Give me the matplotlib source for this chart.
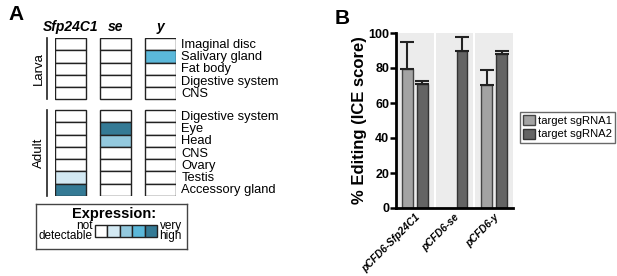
import matplotlib.pyplot as plt
import matplotlib.patches as mpatches
import numpy as np

plt.rcParams["font.family"] = ["Liberation Sans", "DejaVu Sans"]

# panel A data
genes = ["Sfp24C1", "se", "y"]
larva_tissues = ["Imaginal disc", "Salivary gland", "Fat body", "Digestive system", "CNS"]
adult_tissues = ["Digestive system", "Eye", "Head", "CNS", "Ovary", "Testis", "Accessory gland"]
# expression level 0..4 per gene (rows = tissues)
larva_expr = {
    "Sfp24C1": [0, 0, 0, 0, 0],
    "se": [0, 0, 0, 0, 0],
    "y": [0, 3, 0, 0, 0],
}
adult_expr = {
    "Sfp24C1": [0, 0, 0, 0, 0, 1, 4],
    "se": [0, 4, 2, 0, 0, 0, 0],
    "y": [0, 0, 0, 0, 0, 0, 0],
}
level_colors = ["#ffffff", "#d3e9f3", "#93c9de", "#5bb8da", "#347a95"]

# panel B data
constructs = ["pCFD6-Sfp24C1", "pCFD6-se", "pCFD6-y"]
sg1_mean = [79.5, np.nan, 70.5]
sg1_err = [15.5, np.nan, 8.5]
sg2_mean = [71.0, 90.0, 88.0]
sg2_err = [1.3, 7.5, 2.0]
series_labels = ["target sgRNA1", "target sgRNA2"]

W, H = 617, 276
fig = plt.figure(figsize=(W / 100, H / 100), dpi=100)


def px_axes(x0, y0, x1, y1):
    return fig.add_axes([x0 / W, 1 - y1 / H, (x1 - x0) / W, (y1 - y0) / H])


# ---------------- panel A ----------------
axA = px_axes(55, 38, 176, 196)
adult_off = 5.85
ncol = len(genes)
cw = 0.7
for gi, g in enumerate(genes):
    for ri, lv in enumerate(larva_expr[g]):
        axA.add_patch(mpatches.Rectangle((gi - cw / 2, ri), cw, 1, facecolor=level_colors[lv],
                                         edgecolor="#222222", linewidth=1.0))
    for ri, lv in enumerate(adult_expr[g]):
        axA.add_patch(mpatches.Rectangle((gi - cw / 2, adult_off + ri), cw, 1, facecolor=level_colors[lv],
                                         edgecolor="#222222", linewidth=1.0))
    axA.text(gi, -0.9, g, ha="center", va="center", fontsize=10, fontweight="bold", style="italic")

total = adult_off + len(adult_tissues)
axA.set_xlim(-0.35, ncol - 1 + 0.35)
axA.set_ylim(total, 0)
axA.axis("off")

for ri, t in enumerate(larva_tissues):
    axA.text(2.47, ri + 0.55, t, ha="left", va="center", fontsize=9.3)
for ri, t in enumerate(adult_tissues):
    axA.text(2.47, adult_off + ri + 0.55, t, ha="left", va="center", fontsize=9.3)

axA.plot([-0.53, -0.53], [0, len(larva_tissues)], color="#222222", lw=1.2, clip_on=False)
axA.plot([-0.53, -0.53], [adult_off, total], color="#222222", lw=1.2, clip_on=False)
axA.text(-0.7, len(larva_tissues) / 2, "Larva", rotation=90, ha="center", va="center", fontsize=9.5)
axA.text(-0.7, adult_off + len(adult_tissues) / 2, "Adult", rotation=90, ha="center", va="center", fontsize=9.5)

# expression legend
axL = px_axes(36, 204, 187, 249)
axL.set_xticks([])
axL.set_yticks([])
for s in axL.spines.values():
    s.set_color("#444444")
    s.set_linewidth(1.0)
levels = np.arange(len(level_colors))
axL.set_xlim(-4.76, 7.42)
axL.set_ylim(0, 3.63)
axL.bar(levels + 0.5, 1, width=1, bottom=0.95, color=level_colors, edgecolor="#222222", linewidth=1.0)
axL.text(1.5, 2.85, "Expression:", ha="center", va="center", fontsize=10.5, fontweight="bold")
axL.text(-0.2, 1.45, "not\ndetectable", ha="right", va="center", fontsize=8.5, linespacing=0.75)
axL.text(5.2, 1.45, "very\nhigh", ha="left", va="center", fontsize=8.5, linespacing=0.75)

fig.text(8 / W, 1 - 14 / H, "A", fontsize=15, fontweight="bold", va="center", ha="left")

# ---------------- panel B ----------------
axB = px_axes(396, 33, 513, 208)
x = np.arange(len(constructs))
off, bw = 0.19, 0.27
for xi in x:
    axB.axvspan(xi - 0.47, xi + 0.47, color="#ececec", lw=0, zorder=0)
axB.bar(x - off, sg1_mean, width=bw, color="#a3a3a3", edgecolor="#444444", linewidth=1.0,
        label=series_labels[0], zorder=2)
axB.bar(x + off, sg2_mean, width=bw, color="#646464", edgecolor="#333333", linewidth=1.0,
        label=series_labels[1], zorder=2)
axB.errorbar(x - off, sg1_mean, yerr=[np.zeros(3), sg1_err], fmt="none", ecolor="#222222",
             elinewidth=1.5, capsize=5, capthick=1.5, zorder=3)
axB.errorbar(x + off, sg2_mean, yerr=[np.zeros(3), sg2_err], fmt="none", ecolor="#222222",
             elinewidth=1.5, capsize=5, capthick=1.5, zorder=3)

axB.set_xlim(-0.48, 2.48)
axB.set_ylim(0, 100)
axB.set_yticks([0, 20, 40, 60, 80, 100])
axB.set_yticklabels(["0", "20", "40", "60", "80", "100"], fontweight="bold", fontsize=9)
axB.set_xticks(x)
axB.set_xticklabels(constructs, rotation=45, ha="right", rotation_mode="anchor",
                    fontsize=7.4, fontweight="bold", style="italic")
axB.tick_params(axis="y", width=1.8, length=4, pad=1)
axB.tick_params(axis="x", length=0, pad=3)
for s in ["top", "right"]:
    axB.spines[s].set_visible(False)
for s in ["left", "bottom"]:
    axB.spines[s].set_linewidth(2)
axB.set_ylabel("% Editing (ICE score)", fontsize=12, fontweight="bold", labelpad=1)

leg = fig.legend(*axB.get_legend_handles_labels(), loc="upper left",
                 bbox_to_anchor=(520 / W, 1 - 112 / H), fontsize=8.1, frameon=True, fancybox=False,
                 handlelength=1.0, handleheight=1.0, handletextpad=0.3, borderpad=0.3,
                 labelspacing=0.2, borderaxespad=0)
leg.get_frame().set_edgecolor("#444444")
leg.get_frame().set_linewidth(1.0)

fig.text(335 / W, 1 - 19 / H, "B", fontsize=15, fontweight="bold", va="center", ha="left")

fig.savefig("out.png", dpi=100)
